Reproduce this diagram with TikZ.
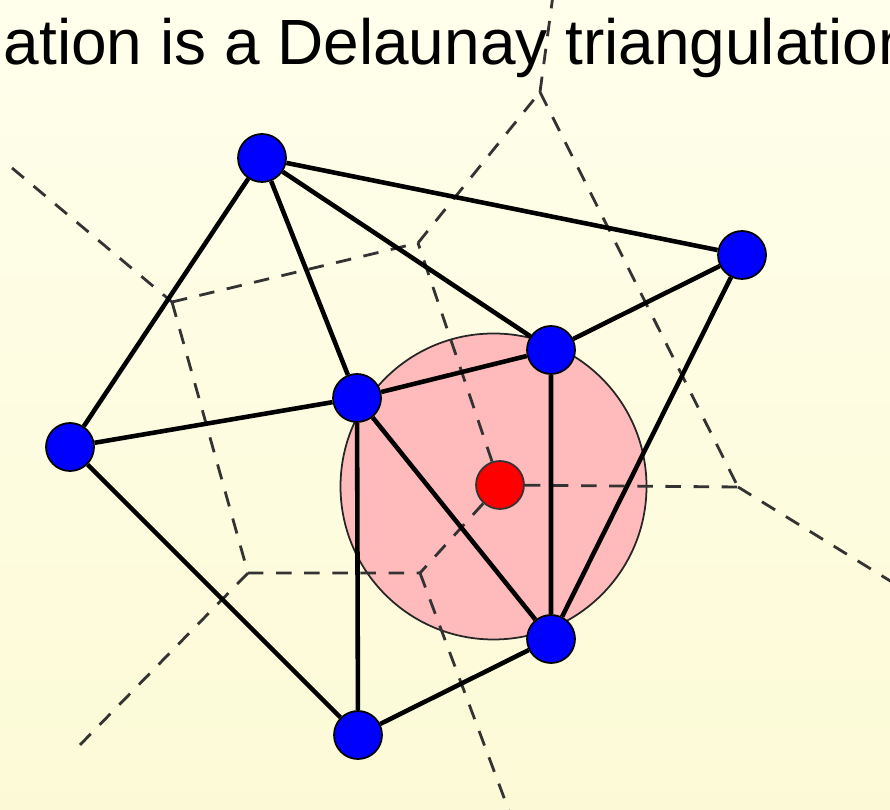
\documentclass[tikz,border=0pt]{standalone}
\usepackage{fontspec}
\setmainfont{Liberation Sans}
\definecolor{bgtop}{RGB}{255,255,236}
\definecolor{bgbot}{RGB}{252,250,214}
\definecolor{discpink}{RGB}{255,187,187}
\tikzset{
  site/.style={circle,draw=black,fill=blue,minimum size=4.8mm,inner sep=0pt,line width=.5pt},
  ctr/.style={circle,draw=black!80,fill=red,minimum size=4.8mm,inner sep=0pt,line width=.5pt},
  disc/.style={circle,draw=black!85,fill=discpink,minimum size=30.6mm,inner sep=0pt,line width=.5pt},
  dl/.style={draw=black,line width=1.3pt},
  vor/.style={draw=black!80,line width=.8pt,dash pattern=on 4.4pt off 3.6pt},
  ttl/.style={font=\fontsize{18.2}{22}\selectfont,anchor=base west,inner sep=0pt},
}
\begin{document}
\begin{tikzpicture}
% ---------- page and background ----------
\useasboundingbox (0,0) rectangle (8.90,8.09);
\clip (0,0) rectangle (8.90,8.09);
\shade[top color=bgtop,bottom color=bgbot] (0,0) rectangle (8.90,8.09);
\node[ttl] (title) at (0.03,7.445) {ation is a Delaunay triangulation};
% ---------- empty circle through three sites ----------
\node[disc] (cc) at (4.935,3.225) {};
% ---------- Voronoi vertices and free ends ----------
\coordinate (v1) at (1.72,5.07);
\coordinate (v2) at (4.18,5.66);
\coordinate (v3) at (5.40,7.17);
\coordinate (v4) at (7.38,3.22);
\coordinate (v6) at (4.20,2.36);
\coordinate (v7) at (2.48,2.36);
\coordinate (eTop) at (5.545,8.25);
\coordinate (eLft) at (0.12,6.41);
\coordinate (eBl) at (0.75,0.59);
\coordinate (eBot) at (5.12,-0.10);
\coordinate (eRgt) at (9.00,2.22);
\node[ctr] (r) at (5.00,3.24) {};
\draw[vor] (eLft)--(v1) (v1)--(v2) (v2)--(v3) (v3)--(eTop) (v3)--(v4)
           (v4)--(eRgt) (v1)--(v7) (v7)--(eBl) (v7)--(v6) (v6)--(eBot);
\draw[vor] (r)--(v4) (r)--(v2) (r)--(v6);
% ---------- sites ----------
\node[site] (a) at (2.62,6.51) {};
\node[site] (b) at (7.42,5.54) {};
\node[site] (c) at (5.51,4.59) {};
\node[site] (d) at (3.57,4.11) {};
\node[site] (e) at (0.70,3.62) {};
\node[site] (f) at (5.51,1.70) {};
\node[site] (g) at (3.58,0.74) {};
% ---------- Delaunay edges ----------
\draw[dl] (a)--(b) (a)--(c) (a)--(d) (a)--(e) (b)--(c) (b)--(f)
          (c)--(d) (c)--(f) (d)--(f) (d)--(e) (d)--(g) (e)--(g) (g)--(f);
\end{tikzpicture}
\end{document}
